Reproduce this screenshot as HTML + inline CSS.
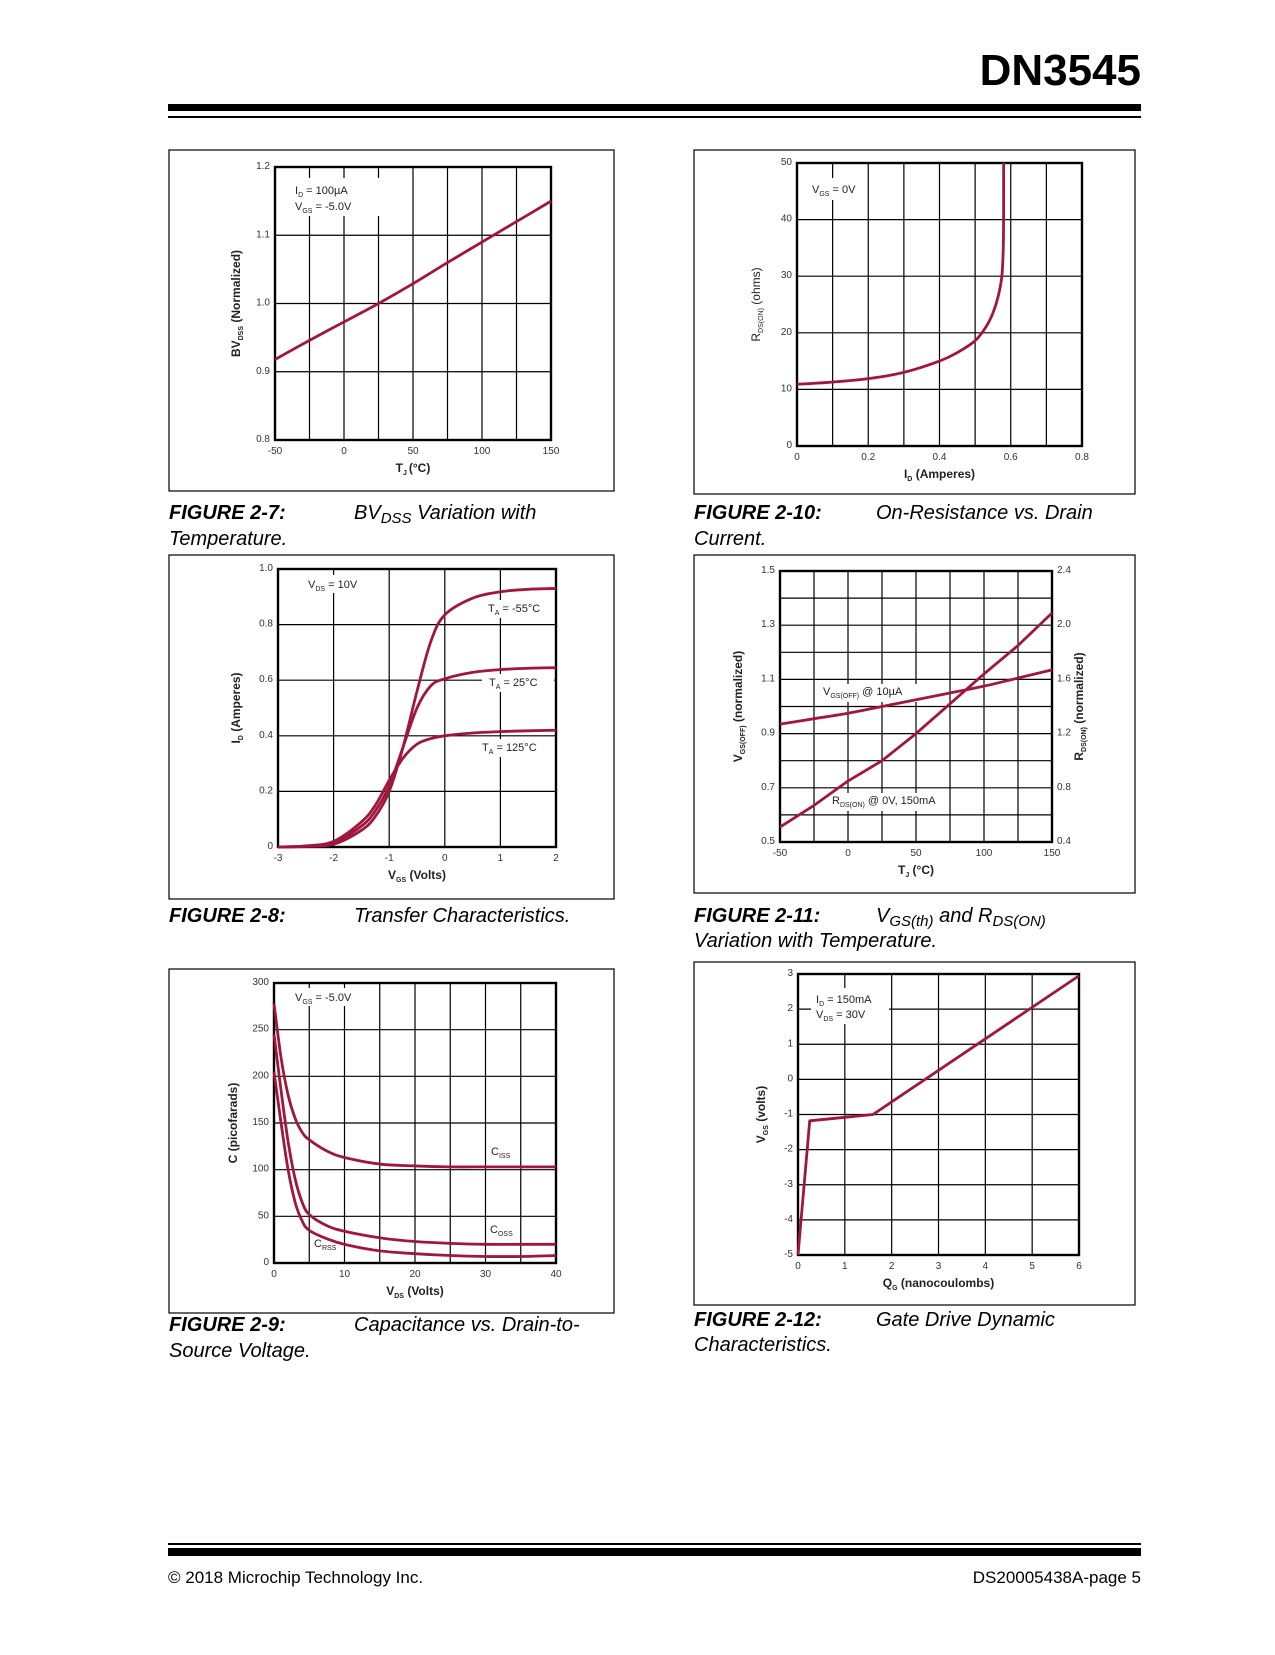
<!DOCTYPE html>
<html><head><meta charset="utf-8"><style>
html,body{margin:0;padding:0;background:#fff;}
body{width:1275px;height:1650px;position:relative;overflow:hidden;font-family:"Liberation Sans",Arial,sans-serif;}
svg text{font-family:"Liberation Sans",Arial,sans-serif;}
</style></head><body>
<svg id="page" width="1275" height="1650" viewBox="0 0 1275 1650" xmlns="http://www.w3.org/2000/svg">
<text x="1141" y="85" font-size="44" font-weight="bold" text-anchor="end" fill="#000">DN3545</text>
<rect x="168" y="104" width="973" height="7" fill="#000"/>
<rect x="168" y="116" width="973" height="2" fill="#000"/>
<rect x="168" y="1543" width="973" height="2" fill="#000"/>
<rect x="168" y="1548" width="973" height="8" fill="#000"/>
<text x="168" y="1583" font-size="17" fill="#000">© 2018 Microchip Technology Inc.</text>
<text x="1141" y="1583" font-size="17" text-anchor="end" fill="#000">DS20005438A-page 5</text>
<g id="charts"></g>
</svg>
<script>
// ---- Chart data ----
// Fig 2-7
const bvTemps = [-50,-25,0,25,50,75,100,125,150];
const bvValues = [0.918,0.946,0.973,1.0,1.029,1.06,1.09,1.12,1.15];
const bvXTicks = [-50,0,50,100,150];
const bvYTicks = [0.8,0.9,1.0,1.1,1.2];
// Fig 2-10
const rdsCurrent = [0,0.1,0.2,0.3,0.4,0.45,0.5,0.53,0.55,0.565,0.575,0.579,0.58,0.58];
const rdsOhms = [10.9,11.3,11.9,13,15,16.5,18.6,21,23.5,26.5,30,35,42,50];
const rdsXTicks = [0,0.2,0.4,0.6,0.8];
const rdsYTicks = [0,10,20,30,40,50];
// Fig 2-8
const vgsVolts = [-3,-2.5,-2,-1.5,-1.25,-1,-0.75,-0.5,-0.25,0,0.5,1,1.5,2];
const idM55 = [0,0.002,0.01,0.06,0.11,0.2,0.36,0.56,0.74,0.835,0.895,0.918,0.927,0.93];
const id25 = [0,0.003,0.015,0.075,0.13,0.22,0.36,0.5,0.58,0.605,0.628,0.638,0.643,0.645];
const id125 = [0,0.004,0.02,0.09,0.15,0.24,0.32,0.37,0.39,0.40,0.41,0.415,0.418,0.42];
const idXTicks = [-3,-2,-1,0,1,2];
const idYTicks = [0,0.2,0.4,0.6,0.8,1.0];
// Fig 2-9
const vdsVolts = [0,1,2,3,4,5,7.5,10,15,20,25,30,35,40];
const ciss = [278,220,180,155,140,132,120,113,106,104,103,103,103,103];
const coss = [245,185,130,90,65,52,40,34,27,23,21,20,20,20];
const crss = [205,150,100,65,45,35,26,20,13,10,8,7,7,8];
const capXTicks = [0,10,20,30,40];
const capYTicks = [0,50,100,150,200,250,300];
// Fig 2-11
const tjTemps = [-50,-25,0,25,50,75,100,125,150];
const vgsOff = [0.935,0.955,0.975,1.0,1.025,1.05,1.075,1.105,1.135];
const rdsNorm = [0.51,0.67,0.85,1.0,1.2,1.42,1.64,1.85,2.09];
const tjXTicks = [-50,0,50,100,150];
const vgsOffYTicks = ['0.5','0.7','0.9','1.1','1.3','1.5'];
const rdsNormYTicks = ['0.4','0.8','1.2','1.6','2.0','2.4'];
// Fig 2-12
const qgNano = [0,0.25,1,1.6,6];
const vgsGate = [-5,-1.18,-1.08,-1.0,2.95];
const qgXTicks = [0,1,2,3,4,5,6];
const qgYTicks = [-5,-4,-3,-2,-1,0,1,2,3];

const NS='http://www.w3.org/2000/svg';
const root=document.getElementById('charts');
const RED='#a0173c';
function mk(tag,attrs,parent){const e=document.createElementNS(NS,tag);for(const k in attrs)e.setAttribute(k,attrs[k]);(parent||root).appendChild(e);return e;}
function sub(t,main,s,parent,name){
  const e=mk('text',t,parent);
  
  
  e.appendChild(document.createTextNode(main[0]));
  const ts=document.createElementNS(NS,'tspan');ts.setAttribute('font-size','7');ts.setAttribute('dy','3');ts.textContent=s;e.appendChild(ts);
  const ts2=document.createElementNS(NS,'tspan');ts2.setAttribute('dy','-3');ts2.textContent=main[1]||'';e.appendChild(ts2);
  return e;
}
function smooth(pts){
  let d='M'+pts[0][0]+','+pts[0][1];
  for(let i=0;i<pts.length-1;i++){
    const p0=pts[i-1]||pts[i],p1=pts[i],p2=pts[i+1],p3=pts[i+2]||p2;
    const c1=[p1[0]+(p2[0]-p0[0])/6,p1[1]+(p2[1]-p0[1])/6];
    const c2=[p2[0]-(p3[0]-p1[0])/6,p2[1]-(p3[1]-p1[1])/6];
    d+=' C'+c1[0]+','+c1[1]+' '+c2[0]+','+c2[1]+' '+p2[0]+','+p2[1];
  }
  return d;
}
function chart(c){
  const g=mk('g',{});
  
  
  const box=mk('rect',{x:c.box[0],y:c.box[1],width:c.box[2],height:c.box[3],fill:'#fff',stroke:'#000','stroke-width':1.2},g);
  
  
  const [L,T,R,B]=c.plot;
  const sx=v=>L+(v-c.xr[0])/(c.xr[1]-c.xr[0])*(R-L);
  const sy=v=>B-(v-c.yr[0])/(c.yr[1]-c.yr[0])*(B-T);
  for(let i=1;i<c.nx;i++){const x=L+i*(R-L)/c.nx;const l=mk('line',{x1:x,y1:T,x2:x,y2:B,stroke:'#000','stroke-width':1.2},g);}
  for(let i=1;i<c.ny;i++){const y=T+i*(B-T)/c.ny;const l=mk('line',{x1:L,y1:y,x2:R,y2:y,stroke:'#000','stroke-width':1.2},g);}
  (c.annots||[]).forEach(a=>{const r=mk('rect',{x:a.bg[0],y:a.bg[1],width:a.bg[2],height:a.bg[3],fill:'#fff'},g);});
  const fr=mk('rect',{x:L,y:T,width:R-L,height:B-T,fill:'none',stroke:'#000','stroke-width':2.4},g);
  
  
  c.xt.forEach(v=>{const t=mk('text',{x:sx(v),y:B+14,'font-size':10,'text-anchor':'middle',fill:'#333'},g);t.textContent=String(v);});
  c.yt.forEach(v=>{const t=mk('text',{x:L-5,y:sy(+v)+2,'font-size':10,'text-anchor':'end',fill:'#333'},g);t.textContent=String(v);});
  if(c.yt2){const yr2=c.yr2;c.yt2.forEach(v=>{const y=B-(+v-yr2[0])/(yr2[1]-yr2[0])*(B-T);const t=mk('text',{x:R+5,y:y+2,'font-size':10,'text-anchor':'start',fill:'#333'},g);t.textContent=String(v);});}
  c.series.forEach(s=>{
    const syy=s.right?(v=>B-(v-c.yr2[0])/(c.yr2[1]-c.yr2[0])*(B-T)):sy;
    const pts=s.x.map((v,i)=>[sx(v),syy(s.y[i])]);
    const d=s.linear?('M'+pts.map(p=>p[0]+','+p[1]).join(' L')):smooth(pts);
    const p=mk('path',{d:d,fill:'none',stroke:RED,'stroke-width':2.8,'stroke-linejoin':'round'},g);
    
    
  });
  sub({x:(L+R)/2,y:B+32,'font-size':12,'font-weight':'bold','text-anchor':'middle',fill:'#222'},c.xtitle[0],c.xtitle[1],g,'x-axis-title');
  const yc=(T+B)/2;
  sub({x:c.ytx,y:yc,'font-size':12,'font-weight':c.ybold===false?'normal':'bold','text-anchor':'middle',fill:'#222',transform:'rotate(-90 '+c.ytx+' '+yc+')'},c.ytitle[0],c.ytitle[1],g,'y-axis-title');
  if(c.ytitle2){const x2=c.ytx2;sub({x:x2,y:yc,'font-size':12,'font-weight':'bold','text-anchor':'middle',fill:'#222',transform:'rotate(-90 '+x2+' '+yc+')'},c.ytitle2[0],c.ytitle2[1],g,'y2-axis-title');}
  (c.annots||[]).forEach(a=>a.lines.forEach(l=>sub({x:l[0],y:l[1],'font-size':11,fill:'#222'},l[2],l[3],g,'annotation-label')));
  c.caption.forEach((cl,i)=>{
    if(cl.bold){const t=mk('text',{x:cl.x,y:cl.y,'font-size':20,'font-weight':'bold','font-style':'italic',fill:'#000'},g);t.textContent=cl.text;}
    else{const t=mk('text',{x:cl.x,y:cl.y,'font-size':20,'font-style':'italic',fill:'#000'},g);t.innerHTML=cl.text;}
  });
}
const RX=694, LX=169;
chart({name:'chart-bvdss-vs-temperature',box:[LX,150,445,341],plot:[275,167,551,440],xr:[-50,150],yr:[0.8,1.2],nx:8,ny:4,
 xt:bvXTicks,yt:bvYTicks.map(v=>v.toFixed(1)),xtitle:[['T','(°C)'],'J '],ytitle:[['BV',' (Normalized)'],'DSS'],ytx:240,
 series:[{name:'bvdss-line',x:bvTemps,y:bvValues}],
 annots:[{bg:[290,178,90,38],lines:[[295,194,['I',' = 100µA'],'D'],[295,210,['V',' = -5.0V'],'GS']]}],
 caption:[{bold:1,x:LX,y:519,text:'FIGURE 2-7:'},{x:354,y:519,text:'BV<tspan font-size="15" dy="4">DSS</tspan><tspan dy="-4"> Variation with</tspan>'},{x:LX,y:545,text:'Temperature.'}]});
chart({name:'chart-rdson-vs-drain-current',box:[RX,150,441,344],plot:[797,163,1082,446],xr:[0,0.8],yr:[0,50],nx:8,ny:5,
 xt:rdsXTicks,yt:rdsYTicks,xtitle:[['I',' (Amperes)'],'D'],ytitle:[['R',' (ohms)'],'DS(ON)'],ytx:760,ybold:false,
 series:[{name:'rdson-curve',x:rdsCurrent,y:rdsOhms}],
 annots:[{bg:[807,178,60,22],lines:[[812,193,['V',' = 0V'],'GS']]}],
 caption:[{bold:1,x:RX,y:519,text:'FIGURE 2-10:'},{x:876,y:519,text:'On-Resistance vs. Drain'},{x:RX,y:545,text:'Current.'}]});
chart({name:'chart-transfer-characteristics',box:[LX,555,445,344],plot:[278,569,556,847],xr:[-3,2],yr:[0,1],nx:5,ny:5,
 xt:idXTicks,yt:idYTicks.map(v=>v===0?'0':v.toFixed(1)),xtitle:[['V',' (Volts)'],'GS'],ytitle:[['I',' (Amperes)'],'D'],ytx:240,
 series:[{name:'id-curve-minus55c',x:vgsVolts,y:idM55},{name:'id-curve-25c',x:vgsVolts,y:id25},{name:'id-curve-125c',x:vgsVolts,y:id125}],
 annots:[{bg:[303,575,70,18],lines:[[308,588,['V',' = 10V'],'DS']]},{bg:[484,600,72,18],lines:[[488,612,['T',' = -55°C'],'A']]},{bg:[482,674,72,18],lines:[[489,686,['T',' = 25°C'],'A']]},{bg:[477,739,78,18],lines:[[482,751,['T',' = 125°C'],'A']]}],
 caption:[{bold:1,x:LX,y:922,text:'FIGURE 2-8:'},{x:354,y:922,text:'Transfer Characteristics.'}]});
chart({name:'chart-vgsoff-rdson-vs-temperature',box:[RX,555,441,338],plot:[780,571,1052,842],xr:[-50,150],yr:[0.5,1.5],yr2:[0.4,2.4],nx:8,ny:10,
 xt:tjXTicks,yt:vgsOffYTicks,yt2:rdsNormYTicks,xtitle:[['T',' (°C)'],'J'],ytitle:[['V',' (normalized)'],'GS(OFF)'],ytx:742,ytitle2:[['R',' (normalized)'],'DS(ON)'],ytx2:1083,
 series:[{name:'vgsoff-line',x:tjTemps,y:vgsOff},{name:'rdson-normalized-line',x:tjTemps,y:rdsNorm,right:true,linear:true}],
 annots:[{bg:[820,684,108,18],lines:[[823,695,['V',' @ 10µA'],'GS(OFF)']]},{bg:[829,793,118,18],lines:[[832,804,['R',' @ 0V, 150mA'],'DS(ON)']]}],
 caption:[{bold:1,x:RX,y:922,text:'FIGURE 2-11:'},{x:876,y:922,text:'V<tspan font-size="15" dy="4">GS(th)</tspan><tspan dy="-4"> and R</tspan><tspan font-size="15" dy="4">DS(ON)</tspan>'},{x:RX,y:947,text:'Variation with Temperature.'}]});
chart({name:'chart-capacitance-vs-vds',box:[LX,969,445,344],plot:[274,983,556,1263],xr:[0,40],yr:[0,300],nx:8,ny:6,
 xt:capXTicks,yt:capYTicks,xtitle:[['V',' (Volts)'],'DS'],ytitle:[['C (picofarads)',''],''],ytx:237,
 series:[{name:'ciss-curve',x:vdsVolts,y:ciss},{name:'coss-curve',x:vdsVolts,y:coss},{name:'crss-curve',x:vdsVolts,y:crss}],
 annots:[{bg:[290,988,80,18],lines:[[295,1001,['V',' = -5.0V'],'GS']]},{bg:[489,1141,24,20],lines:[[491,1155,['C',''],'ISS']]},{bg:[488,1219,28,20],lines:[[490,1233,['C',''],'OSS']]},{bg:[312,1233,30,20],lines:[[314,1247,['C',''],'RSS']]}],
 caption:[{bold:1,x:LX,y:1331,text:'FIGURE 2-9:'},{x:354,y:1331,text:'Capacitance vs. Drain-to-'},{x:LX,y:1357,text:'Source Voltage.'}]});
chart({name:'chart-gate-drive-dynamic',box:[RX,962,441,343],plot:[798,974,1079,1255],xr:[0,6],yr:[-5,3],nx:6,ny:8,
 xt:qgXTicks,yt:qgYTicks,xtitle:[['Q',' (nanocoulombs)'],'G'],ytitle:[['V',' (volts)'],'GS'],ytx:765,
 series:[{name:'gate-charge-line',x:qgNano,y:vgsGate,linear:true}],
 annots:[{bg:[811,988,78,36],lines:[[816,1003,['I',' = 150mA'],'D'],[816,1018,['V',' = 30V'],'DS']]}],
 caption:[{bold:1,x:RX,y:1326,text:'FIGURE 2-12:'},{x:876,y:1326,text:'Gate Drive Dynamic'},{x:RX,y:1351,text:'Characteristics.'}]});
</script>
</body></html>
